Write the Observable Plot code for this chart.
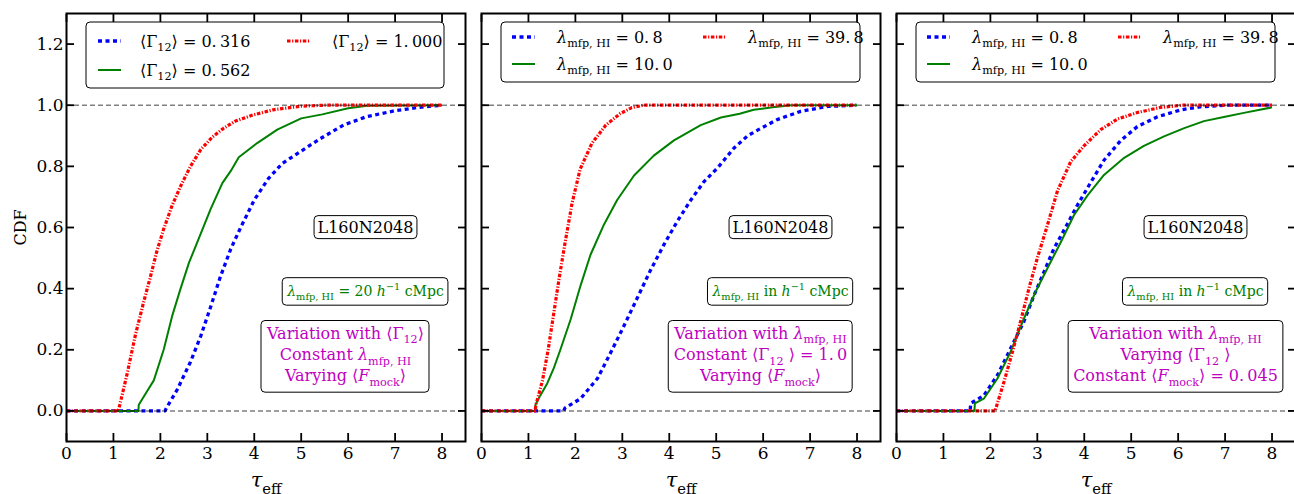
<!DOCTYPE html>
<html>
<head>
<meta charset="utf-8">
<script src="https://cdn.jsdelivr.net/npm/d3@7"></script>
<script src="https://cdn.jsdelivr.net/npm/@observablehq/plot@0.6"></script>
<style>
  html, body { margin: 0; padding: 0; background: #fff; overflow: hidden; }
  #chart { position: relative; width: 1294px; height: 494px; }
  #chart svg { position: absolute; top: 0; }
</style>
</head>
<body>
<div id="chart"></div>
<script>
// Axis ticks shared by all panels
const xTicks = [0, 1, 2, 3, 4, 5, 6, 7, 8];
const yTicks = [0, 0.2, 0.4, 0.6, 0.8, 1.0, 1.2];

// Panel 1: CDF of tau_eff for three mean photoionisation rates
const gamma0316 = [[0,0],[2.1,0],[2.13,0.01],[2.36,0.07],[2.64,0.16],[2.86,0.245],[3.07,0.34],[3.28,0.44],[3.5,0.53],[3.71,0.6],[4.0,0.69],[4.3,0.76],[4.6,0.81],[5.0,0.85],[5.4,0.89],[5.9,0.935],[6.4,0.963],[7.0,0.982],[7.5,0.993],[8,1.0]];
const gamma0562 = [[0,0],[1.53,0],[1.54,0.02],[1.7,0.06],[1.86,0.1],[2.07,0.2],[2.25,0.31],[2.43,0.4],[2.61,0.485],[2.86,0.58],[3.07,0.66],[3.32,0.745],[3.5,0.785],[3.67,0.83],[4.07,0.877],[4.49,0.92],[5.0,0.957],[5.45,0.97],[6.0,0.99],[6.4,0.998],[8,1.0]];
const gamma1000 = [[0,0],[1.1,0],[1.12,0.01],[1.29,0.12],[1.47,0.25],[1.65,0.36],[1.79,0.44],[1.92,0.52],[2.07,0.595],[2.25,0.672],[2.43,0.735],[2.64,0.8],[2.86,0.855],[3.1,0.895],[3.35,0.925],[3.6,0.948],[3.95,0.967],[4.4,0.985],[5.0,0.997],[5.5,1.0],[8,1.0]];

// Panel 2: three mean free paths at constant <Gamma_12> = 1.0
const mfp08 = [[0,0],[1.75,0],[1.78,0.01],[2.11,0.04],[2.47,0.106],[2.75,0.19],[3.04,0.28],[3.32,0.37],[3.6,0.46],[3.89,0.545],[4.17,0.62],[4.46,0.69],[4.74,0.75],[5.03,0.795],[5.38,0.86],[5.67,0.9],[5.9,0.92],[6.3,0.953],[6.8,0.98],[7.37,0.996],[8,1.0]];
const mfp100 = [[0,0],[1.14,0],[1.15,0.02],[1.25,0.05],[1.4,0.09],[1.54,0.14],[1.68,0.2],[1.9,0.3],[2.11,0.41],[2.32,0.51],[2.61,0.61],[2.89,0.69],[3.25,0.77],[3.67,0.835],[4.1,0.885],[4.67,0.935],[5.1,0.96],[5.5,0.972],[5.8,0.985],[6.2,0.993],[6.6,1.0],[8,1.0]];
const mfp398 = [[0,0],[1.14,0],[1.16,0.02],[1.3,0.1],[1.42,0.2],[1.53,0.31],[1.65,0.43],[1.78,0.55],[1.93,0.68],[2.1,0.79],[2.35,0.875],[2.65,0.935],[2.95,0.972],[3.2,0.992],[3.45,1.0],[8,1.0]];

// Panel 3: three mean free paths at constant <F_mock> = 0.045
const fixF08 = [[0,0],[1.57,0],[1.58,0.025],[1.86,0.05],[2.15,0.117],[2.43,0.204],[2.71,0.291],[2.93,0.378],[3.14,0.454],[3.35,0.53],[3.6,0.6],[3.85,0.672],[4.14,0.748],[4.42,0.82],[4.78,0.885],[5.13,0.93],[5.56,0.962],[6.06,0.985],[6.48,0.995],[7.0,1.0],[8,1.0]];
const fixF100 = [[0,0],[1.66,0],[1.67,0.025],[1.86,0.04],[2.15,0.106],[2.43,0.193],[2.71,0.3],[2.96,0.389],[3.21,0.465],[3.5,0.552],[3.78,0.64],[4.07,0.705],[4.42,0.772],[4.85,0.828],[5.27,0.867],[5.7,0.898],[6.13,0.925],[6.55,0.948],[7.0,0.962],[7.4,0.975],[8.0,0.993]];
const fixF398 = [[0,0],[2.1,0],[2.12,0.01],[2.29,0.095],[2.47,0.193],[2.64,0.291],[2.82,0.4],[3.0,0.5],[3.21,0.605],[3.43,0.72],[3.71,0.815],[4.0,0.868],[4.35,0.92],[4.71,0.955],[5.13,0.976],[5.63,0.993],[6.1,1.0],[8,1.0]];

// Labels (* = italic, _{} = subscript, ^{} = superscript)
const legendGamma = ["⟨Γ_{12}⟩ = 0.\u2009316", "⟨Γ_{12}⟩ = 0.\u2009562", "⟨Γ_{12}⟩ = 1.\u2009000"];
const legendMfp = ["*λ*_{mfp, HI} = 0.\u20098", "*λ*_{mfp, HI} = 10.\u20090", "*λ*_{mfp, HI} = 39.\u20098"];
const simLabel = "L160N2048";
const mfpNotes = ["*λ*_{mfp, HI} = 20 *h*^{−1} cMpc", "*λ*_{mfp, HI} in *h*^{−1} cMpc", "*λ*_{mfp, HI} in *h*^{−1} cMpc"];
const caseNotes = [
  ["Variation with ⟨Γ_{12}⟩", "Constant *λ*_{mfp, HI}", "Varying ⟨*F*_{mock}⟩"],
  ["Variation with *λ*_{mfp, HI}", "Constant ⟨Γ_{12} ⟩ = 1.\u20090", "Varying ⟨*F*_{mock}⟩"],
  ["Variation with *λ*_{mfp, HI}", "Varying ⟨Γ_{12} ⟩", "Constant ⟨*F*_{mock}⟩ = 0.\u2009045"]
];

const FONT = "'DejaVu Serif', 'Liberation Serif', serif";
const ML = 66, MR = 10, MT = 13, MB = 53, W = 475, H = 494;
const PW = W - ML - MR;
const styles = {
  blue: {stroke: "#0000ff", strokeWidth: 3.3, strokeDasharray: "4,3.5"},
  green: {stroke: "#008000", strokeWidth: 2},
  red: {stroke: "#ff0000", strokeWidth: 3.2, strokeDasharray: "3.5,1.6,1.2,1.6"}
};

const panels = [
  {series: [gamma0316, gamma0562, gamma1000], legend: legendGamma,
   legendBox: {left: 20, right: 21, top: 9, height: 66, rows: [28, 57], lineX: [32, 221], textX: [74, 266]}},
  {series: [mfp08, mfp100, mfp398], legend: legendMfp,
   legendBox: {left: 20, right: 20, top: 9, height: 60, rows: [24, 51], lineX: [31, 222], textX: [76, 267]}},
  {series: [fixF08, fixF100, fixF398], legend: legendMfp,
   legendBox: {left: 20, right: 20, top: 9, height: 60, rows: [24, 51], lineX: [31, 222], textX: [76, 267]}}
];
const seriesColors = ["blue", "green", "red"];
const panelLeft = [0, 415, 830];

// Minimal math-like markup -> tspans
function parseRich(src) {
  const runs = []; let buf = "", italic = false, i = 0;
  const flush = () => { if (buf) runs.push({t: buf, italic, mode: 0}); buf = ""; };
  while (i < src.length) {
    const c = src[i];
    if (c === "*") { flush(); italic = !italic; i++; }
    else if ((c === "_" || c === "^") && src[i + 1] === "{") {
      flush();
      const j = src.indexOf("}", i + 2);
      runs.push({t: src.slice(i + 2, j), italic: false, mode: c === "_" ? 1 : -1});
      i = j + 1;
    } else { buf += c; i++; }
  }
  flush();
  return runs;
}
function rich(textEl) {
  const fs = parseFloat(getComputedStyle(textEl).fontSize);
  const toPx = v => v == null ? 0 : /em$/.test(v) ? parseFloat(v) * fs : (parseFloat(v) || 0);
  const lineEls = Array.from(textEl.children).filter(n => n.tagName === "tspan");
  const lines = lineEls.length
    ? lineEls.map(t => ({src: t.textContent, x: t.getAttribute("x"), dy: toPx(t.getAttribute("dy"))}))
    : [{src: textEl.textContent, x: null, dy: 0}];
  if (!lines.some(l => /[*_^]/.test(l.src))) return;
  while (textEl.firstChild) textEl.removeChild(textEl.firstChild);
  let shift = 0;
  for (const line of lines) {
    parseRich(line.src).forEach((r, k) => {
      const ts = document.createElementNS("http://www.w3.org/2000/svg", "tspan");
      const target = r.mode === 1 ? 0.3 * fs : r.mode === -1 ? -0.45 * fs : 0;
      let dy = target - shift;
      if (k === 0) { dy += line.dy; if (line.x != null) ts.setAttribute("x", line.x); }
      if (dy) ts.setAttribute("dy", dy);
      shift = target;
      if (r.mode) ts.setAttribute("font-size", 0.7 * fs);
      if (r.italic) ts.setAttribute("font-style", "italic");
      ts.textContent = r.t;
      textEl.appendChild(ts);
    });
  }
}
// Rounded white box behind a text group
function boxAround(g, padX, padY) {
  const b = g.getBBox();
  const r = document.createElementNS("http://www.w3.org/2000/svg", "rect");
  r.setAttribute("x", b.x - padX); r.setAttribute("y", b.y - padY);
  r.setAttribute("width", b.width + 2 * padX); r.setAttribute("height", b.height + 2 * padY);
  r.setAttribute("rx", 4); r.setAttribute("fill", "white");
  r.setAttribute("stroke", "black"); r.setAttribute("stroke-width", 1);
  g.insertBefore(r, g.firstChild);
}
function drawLegend(svg, labels, L) {
  const g = d3.select(svg).append("g").attr("font-size", 16).attr("fill", "black").attr("text-anchor", "start");
  g.append("rect")
    .attr("x", ML + L.left).attr("y", MT + L.top)
    .attr("width", PW - L.left - L.right).attr("height", L.height)
    .attr("rx", 4).attr("fill", "white").attr("stroke", "black").attr("stroke-width", 1);
  labels.forEach((label, k) => {
    const col = k < 2 ? 0 : 1, row = k < 2 ? k : 0;
    const s = styles[seriesColors[k]];
    const y = MT + L.rows[row], x = ML + L.lineX[col];
    g.append("line").attr("x1", x).attr("x2", x + 23).attr("y1", y).attr("y2", y)
      .attr("stroke", s.stroke).attr("stroke-width", s.strokeWidth)
      .attr("stroke-dasharray", s.strokeDasharray || null);
    const t = g.append("text").attr("x", ML + L.textX[col]).attr("y", y).attr("dy", "0.35em").text(label);
    rich(t.node());
  });
}

const chart = document.getElementById("chart");
panels.forEach((p, i) => {
  const svg = Plot.plot({
    width: W, height: H,
    marginLeft: ML, marginRight: MR, marginTop: MT, marginBottom: MB,
    x: {domain: [0, 8.5]},
    y: {domain: [-0.1, 1.3]},
    style: {fontFamily: FONT, fontSize: "17px", background: "transparent", overflow: "visible", color: "black"},
    marks: [
      ...p.series.map((pts, k) => Plot.line(pts, {x: q => q[0], y: q => q[1], strokeLinecap: "butt", ...styles[seriesColors[k]]})),
      Plot.ruleY([0, 1], {stroke: "black", strokeOpacity: 0.5, strokeWidth: 1.5, strokeDasharray: "5,3"}),
      Plot.axisX(xTicks, {anchor: "bottom", tickSize: -8, tickPadding: 13, strokeWidth: 1.8, tickFormat: d => String(d), label: null}),
      Plot.axisX(xTicks, {anchor: "top", tickSize: -8, strokeWidth: 1.8, tickFormat: () => "", label: null}),
      Plot.axisY(yTicks, {anchor: "left", tickSize: -8, tickPadding: 11, strokeWidth: 1.8,
        tickFormat: i === 0 ? d3.format(".1f") : () => "", label: null}),
      Plot.axisY(yTicks, {anchor: "right", tickSize: -8, strokeWidth: 1.8, tickFormat: () => "", label: null}),
      Plot.frame({stroke: "black", strokeWidth: 2}),
      Plot.text(["*τ*_{eff}"], {text: d => d, frameAnchor: "bottom", lineAnchor: "middle", textAnchor: "middle", dy: 39, fontSize: 21}),
      ...(i === 0 ? [Plot.text(["CDF"], {text: d => d, frameAnchor: "left", textAnchor: "middle", lineAnchor: "middle", dx: -46, rotate: -90, fontSize: 16})] : []),
      Plot.text([simLabel], {text: d => d, frameAnchor: "right", textAnchor: "middle", lineAnchor: "middle", dx: -100, dy: 0, fontSize: 16}),
      Plot.text([mfpNotes[i]], {text: d => d, frameAnchor: "right", textAnchor: "middle", lineAnchor: "middle", dx: -100, dy: 64, fontSize: 14, fill: "#008000"}),
      Plot.text([caseNotes[i].join("\n")], {text: d => d, frameAnchor: "right", textAnchor: "middle", lineAnchor: "middle", dx: -120, dy: 111, fontSize: 16,
        lineHeight: 1.34, fill: "#bf00bf"})
    ]
  });
  svg.style.left = panelLeft[i] + "px";
  chart.appendChild(svg);
  svg.querySelectorAll("text").forEach(rich);
  // frame the three annotation groups
  svg.querySelectorAll("g").forEach(g => {
    const t = g.querySelector(":scope > text");
    if (!t || g.querySelector(":scope > g")) return;
    const s = t.textContent;
    if (s === simLabel) boxAround(g, 3.5, 2);
    else if (s.includes("cMpc")) boxAround(g, 4, 3);
    else if (s.startsWith("Variation")) boxAround(g, 5, 3);
  });
  drawLegend(svg, p.legend, p.legendBox);
});
</script>
</body>
</html>
